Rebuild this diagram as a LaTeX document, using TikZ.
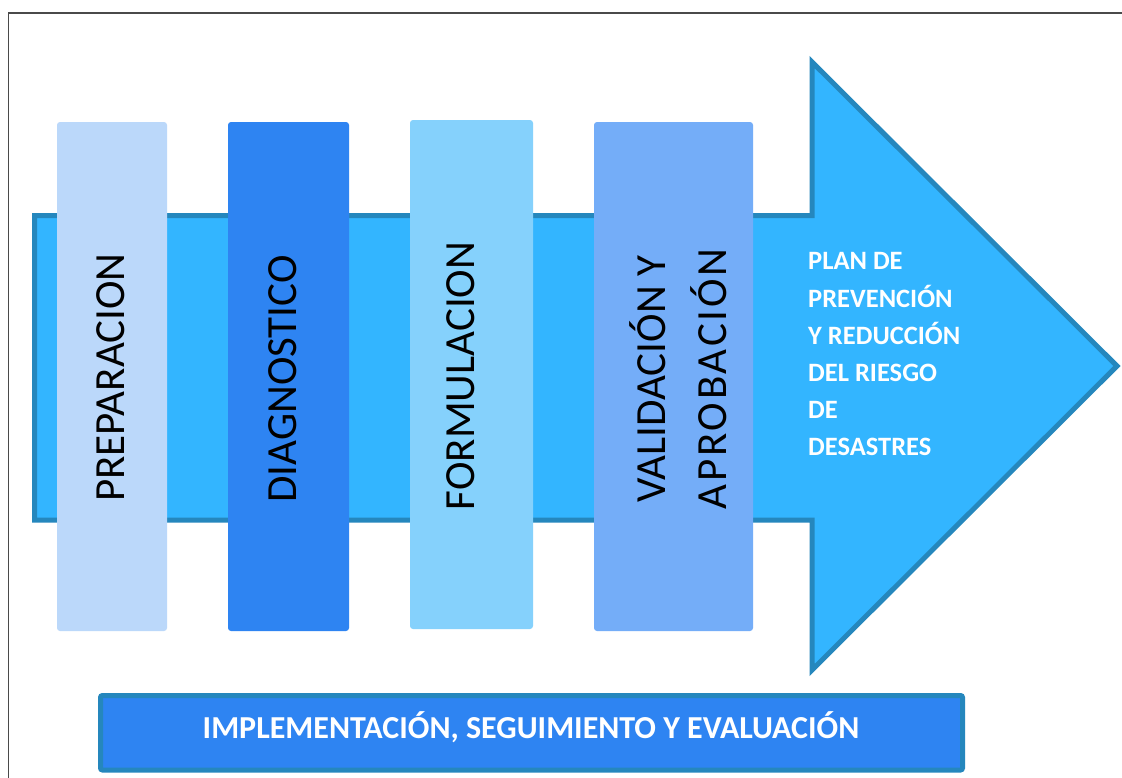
\documentclass[tikz,border=0pt]{standalone}
\usepackage{fontspec}
\setmainfont{Carlito}
\definecolor{arrowfill}{HTML}{33B5FF}
\definecolor{arrowline}{HTML}{2587BD}
\definecolor{barA}{HTML}{BBD8FA}
\definecolor{barB}{HTML}{2E84F2}
\definecolor{barC}{HTML}{85D1FC}
\definecolor{barD}{HTML}{74ADF8}
\definecolor{framecol}{HTML}{4A4A4A}
\tikzset{
  stagebar/.style={rounded corners=3pt},
  stagetext/.style={rotate=90, font=\fontsize{43}{50}\selectfont, text=black, align=center, inner sep=0pt},
}
\begin{document}
\begin{tikzpicture}[x=1pt,y=-1pt]
\useasboundingbox (0,0) rectangle (1122,777);
\fill[white] (0,0) rectangle (1122,777);
% frame
\draw[framecol, line width=1.6pt] (8.5,1200) -- (8.5,13) -- (1200,13);
% big arrow
\draw[arrowline, fill=arrowfill, line width=5pt, miter limit=10]
  (34.5,215.5) -- (812,215.5) -- (812,62) -- (1117,366) -- (812,670) -- (812,520) -- (34.5,520) -- cycle;
% bars
\fill[barA, stagebar] (57,122) rectangle (167,631);
\fill[barB, stagebar] (228,122) rectangle (349,631);
\fill[barC, stagebar] (410,120) rectangle (533,629);
\fill[barD, stagebar] (594,122) rectangle (753,631);
\node[stagetext] (prep) at (111,377.5) {PREPARACION};
\node[stagetext] (diag) at (283,379) {DIAGNOSTICO};
\node[stagetext] (form) at (461,376) {FORMULACION};
\node[stagetext, font=\fontsize{43}{61}\selectfont] (valid) at (678,379)
  {VALIDACIÓN Y\\{\addfontfeature{LetterSpace=6.5}APROBACIÓN}};
% head text
\node[anchor=north west, align=left, text=white, inner sep=0pt,
      font=\bfseries\fontsize{26.5}{37.2}\selectfont] (plan) at (808,252.5)
  {PLAN DE\\PREVENCIÓN\\Y REDUCCIÓN\\DEL RIESGO\\DE\\DESASTRES};
% bottom box
\draw[arrowline, fill=barB, line width=5pt, rounded corners=2pt] (100.5,695.5) rectangle (962.5,770);
\node[text=white, font=\bfseries\fontsize{32}{36}\selectfont] (impl) at (531,727)
  {IMPLEMENTACIÓN, SEGUIMIENTO Y EVALUACIÓN};
\end{tikzpicture}
\end{document}
